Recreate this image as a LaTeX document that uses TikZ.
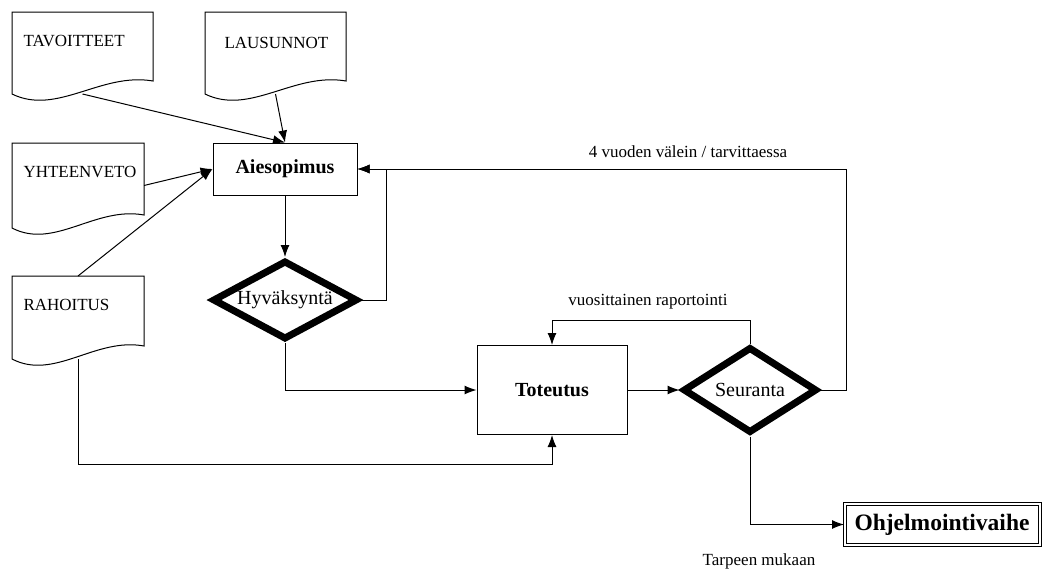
\documentclass[tikz,border=0pt]{standalone}
\usepackage{fontspec}
\setmainfont{Liberation Serif}
\usetikzlibrary{arrows.meta, shapes.geometric, calc}
\newcommand{\labelfont}{\fontsize{17}{20}\selectfont}
\newcommand{\boxfont}{\fontsize{20}{24}\selectfont}
\newcommand{\paperedge}[1]{%
  \draw (#1.north west) -- (#1.north east) -- ($(#1.south east)+(0,-13)$)
    .. controls ($(#1.south west)!0.63!(#1.south east)+(0,-22)$) and ($(#1.south west)!0.32!(#1.south east)+(0,22)$) .. (#1.south west) -- cycle;}

\begin{document}
\begin{tikzpicture}[x=1pt, y=-1pt, line width=1pt, >={Latex[length=12pt,width=9pt]},
  paper/.style={anchor=north west, inner xsep=11pt, inner ysep=0pt, text height=34pt, align=left, font=\labelfont},
  stepbox/.style={draw, inner sep=0pt, font=\boxfont\bfseries},
  decision/.style={diamond, draw, line width=7pt, aspect=1.8, inner sep=0pt, font=\boxfont},
  flow/.style={->, line width=1pt}]
  \useasboundingbox (0,0) rectangle (1043,568);
  % input documents
  \node[paper, text width=118pt, text depth=47pt] (tav) at (12,12) {TAVOITTEET};
  \node[paper, inner xsep=19pt, text width=102pt, text height=36pt, text depth=45pt] (lau) at (205,12) {LAUSUNNOT};
  \node[paper, text width=109pt, text depth=50pt] (yht) at (12,143) {YHTEENVETO};
  \node[paper, text width=109pt, text depth=48pt] (rah) at (12,276) {RAHOITUS};
  \paperedge{tav}
  \paperedge{lau}
  \paperedge{yht}
  \paperedge{rah}
  \coordinate (tav-out) at ($(tav.south west)!0.5!(tav.south east)$);
  \coordinate (lau-out) at ($(lau.south west)!0.5!(lau.south east)$);
  \coordinate (rah-out) at ($(rah.south west)!0.5!(rah.south east)$);
  % process steps
  \node[stepbox, minimum width=144pt, minimum height=52pt] (aie) at (285,169) {Aiesopimus};
  \node[decision, minimum width=145pt, minimum height=79pt] (hyv) at (285,300) {Hyväksyntä};
  \node[stepbox, minimum width=150pt, minimum height=89pt] (tot) at (552,390) {Toteutus};
  \node[decision, aspect=1.5, minimum width=134pt, minimum height=86pt] (seur) at (750,390) {Seuranta};
  \node[draw, double, double distance=2pt, inner sep=0pt, minimum width=195pt, minimum height=41pt,
    font=\fontsize{23.5}{28}\selectfont\bfseries] (ohj) at (942,524.5) {Ohjelmointivaihe};
  % connectors
  \draw[flow] (tav-out) -- (aie.north);
  \draw[flow] (lau-out) -- (aie.north);
  \draw[flow] (yht.east) -- (aie.west);
  \draw[flow] (rah.north) -- (aie.west);
  \draw[flow] (aie.south) -- (hyv.north);
  \draw[flow] (hyv.east) -- ++(25,0) |- (aie.east);
  \draw[flow] (hyv.south) |- (tot.west);
  \draw[flow] (tot.east) -- (seur.west);
  \draw[flow] (seur.north) -- ++(0,-23) -| (tot.north);
  \draw[flow] (seur.east) -- ++(26,0) |- (aie.east);
  \draw[flow] (rah-out) -- ++(0,105) -| (tot.south);
  \draw[flow] (seur.south) |- (ohj.west);
  % labels
  \node[font=\labelfont] (quad) at (688,152) {4 vuoden välein / tarvittaessa};
  \node[font=\labelfont] (yearly) at (648,302) {vuosittainen raportointi};
  \node[font=\labelfont] (needed) at (759,561) {Tarpeen mukaan};
\end{tikzpicture}
\end{document}
